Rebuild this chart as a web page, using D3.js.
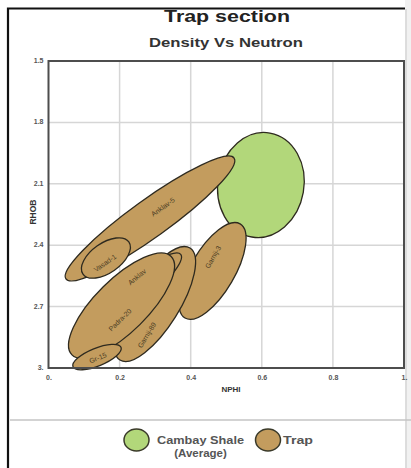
<!DOCTYPE html>
<html>
<head>
<meta charset="utf-8">
<script src="https://cdn.jsdelivr.net/npm/d3@7"></script>
<style>
	body { margin: 0; background: #fff; }
	svg { display: block; font-family: "Liberation Sans", Arial, sans-serif; }
</style>
</head>
<body>
<svg id="chart" width="411" height="468"></svg>
<script>
// zones: major axis from (nphiA, rhobA) to (nphiB, rhobB), half width in NPHI units
// listed in drawing order (later ones sit on top)
const zoneNames = ['Cambay Shale (Average)', 'Anklav-5', 'Vasad-1', 'Garnij-3', 'Garnij-89', 'Anklav', 'Padra-20', 'Gr-15']
const zoneGroup = ['shale', 'trap', 'trap', 'trap', 'trap', 'trap', 'trap', 'trap']
const nphiA = [0.623, 0.049, 0.097, 0.384, 0.201, 0.075, 0.066, 0.069]
const rhobA = [1.852, 2.565, 2.541, 2.756, 2.961, 2.870, 2.936, 2.994]
const nphiB = [0.572, 0.522, 0.226, 0.539, 0.398, 0.372, 0.345, 0.204]
const rhobB = [2.360, 1.974, 2.384, 2.296, 2.414, 2.445, 2.455, 2.899]
const halfWidth = [0.121, 0.053, 0.042, 0.062, 0.068, 0.040, 0.074, 0.025]
const labelNphi = [null, 0.322, 0.159, 0.463, 0.277, 0.249, 0.201, 0.139]
const labelRhob = [null, 2.213, 2.487, 2.458, 2.839, 2.555, 2.765, 2.951]

const xTicks = [0, 0.2, 0.4, 0.6, 0.8, 1]
const xTickLabels = ['0.', '0.2', '0.4', '0.6', '0.8', '1.']
const yTicks = [1.5, 1.8, 2.1, 2.4, 2.7, 3]
const yTickLabels = ['1.5', '1.8', '2.1', '2.4', '2.7', '3.']

const legendGroups = ['shale', 'trap']
const legendLabels = [['Cambay Shale', '(Average)'], ['Trap']]

const colors = { shale: '#b2d77a', trap: '#c39c5e' }

const svg = d3.select('#chart')
const W = 411, H = 468

// page frame
svg.append('rect').attr('x', 405).attr('y', 0).attr('width', 6).attr('height', H).attr('fill', '#f1f1f1')
svg.append('line').attr('x1', 406).attr('x2', 406).attr('y1', 9).attr('y2', H).attr('stroke', '#c8c8c8').attr('stroke-width', 1)
svg.append('path')
	.attr('d', `M8,${H} V8.5 H405`)
	.attr('fill', 'none').attr('stroke', '#111').attr('stroke-width', 2.2)
svg.append('line').attr('x1', 10).attr('x2', W).attr('y1', 420).attr('y2', 420)
	.attr('stroke', '#c4c4c4').attr('stroke-width', 1.5)

const x = d3.scaleLinear().domain([0, 1]).range([48.5, 404])
const y = d3.scaleLinear().domain([1.5, 3]).range([61, 368])

// titles
svg.append('text').attr('x', 227).attr('y', 22).attr('text-anchor', 'middle')
	.attr('font-size', 17).attr('font-weight', 'bold').attr('fill', '#222')
	.attr('textLength', 126).attr('lengthAdjust', 'spacingAndGlyphs')
	.text('Trap section')
svg.append('text').attr('x', 226).attr('y', 47).attr('text-anchor', 'middle')
	.attr('font-size', 13.5).attr('font-weight', 'bold').attr('fill', '#333')
	.attr('textLength', 154).attr('lengthAdjust', 'spacingAndGlyphs')
	.text('Density Vs Neutron')

// grid
const grid = svg.append('g')
grid.selectAll('.vg').data(xTicks.slice(1, -1)).join('line')
	.attr('x1', d => x(d)).attr('x2', d => x(d)).attr('y1', y(1.5)).attr('y2', y(3))
	.attr('stroke', '#d6d6d6').attr('stroke-width', 1.5)
grid.selectAll('.hg').data(yTicks.slice(1, -1)).join('line')
	.attr('x1', x(0)).attr('x2', x(1)).attr('y1', d => y(d)).attr('y2', d => y(d))
	.attr('stroke', '#d6d6d6').attr('stroke-width', 1.5)

// zones
const zones = zoneNames.map((name, i) => {
	const x1 = x(nphiA[i]), y1 = y(rhobA[i]), x2 = x(nphiB[i]), y2 = y(rhobB[i])
	return {
		name, group: zoneGroup[i],
		cx: (x1 + x2) / 2, cy: (y1 + y2) / 2,
		rx: Math.hypot(x2 - x1, y2 - y1) / 2,
		ry: x(halfWidth[i]) - x(0),
		angle: Math.atan2(y2 - y1, x2 - x1) * 180 / Math.PI,
		lx: labelNphi[i] == null ? null : x(labelNphi[i]),
		ly: labelRhob[i] == null ? null : y(labelRhob[i])
	}
})

const plot = svg.append('g')
plot.selectAll('ellipse').data(zones).join('ellipse')
	.attr('transform', d => `translate(${d.cx},${d.cy}) rotate(${d.angle})`)
	.attr('rx', d => d.rx).attr('ry', d => d.ry)
	.attr('fill', d => colors[d.group])
	.attr('stroke', '#2e2a1f').attr('stroke-width', 1.3)

plot.selectAll('text').data(zones.filter(d => d.lx != null)).join('text')
	.attr('transform', d => `translate(${d.lx},${d.ly}) rotate(${d.angle})`)
	.attr('text-anchor', 'middle').attr('dy', '0.35em')
	.attr('font-size', 7).attr('fill', '#4b3c24')
	.text(d => d.name)

// plot frame
svg.append('rect')
	.attr('x', x(0)).attr('y', y(1.5)).attr('width', x(1) - x(0)).attr('height', y(3) - y(1.5))
	.attr('fill', 'none').attr('stroke', '#4d4d4d').attr('stroke-width', 2)

// axes
const xAxis = d3.axisBottom(x).tickValues(xTicks).tickSize(0).tickPadding(7)
	.tickFormat((d, i) => xTickLabels[i])
const yAxis = d3.axisLeft(y).tickValues(yTicks).tickSize(0).tickPadding(5)
	.tickFormat((d, i) => yTickLabels[i])

const gx = svg.append('g').attr('transform', `translate(0,${y(3)})`).call(xAxis)
const gy = svg.append('g').attr('transform', `translate(${x(0)},0)`).call(yAxis)
;[gx, gy].forEach(g => {
	g.select('.domain').remove()
	g.selectAll('text').attr('font-size', 7).attr('font-weight', 'bold').attr('fill', '#555')
		.attr('font-family', '"Liberation Sans", Arial, sans-serif')
})
gy.selectAll('text').attr('dy', '0.2em')

svg.append('text').attr('x', 231).attr('y', 392).attr('text-anchor', 'middle')
	.attr('font-size', 8).attr('font-weight', 'bold').attr('fill', '#333')
	.text('NPHI')
svg.append('text').attr('transform', 'translate(36,212) rotate(-90)').attr('text-anchor', 'middle')
	.attr('font-size', 8.5).attr('font-weight', 'bold').attr('fill', '#333')
	.text('RHOB')

// legend
const legX = [136.5, 268]
const legend = svg.append('g')
legendGroups.forEach((g, i) => {
	legend.append('ellipse').attr('cx', legX[i]).attr('cy', 440).attr('rx', 12.5).attr('ry', 11)
		.attr('fill', colors[g]).attr('stroke', '#3a3a2a').attr('stroke-width', 1.5)
	const lines = legendLabels[i]
	if (lines.length === 2) {
		legend.append('text').attr('x', 200.5).attr('y', 444).attr('text-anchor', 'middle')
			.attr('font-size', 11.5).attr('font-weight', 'bold').attr('fill', '#555')
			.attr('textLength', 87).attr('lengthAdjust', 'spacingAndGlyphs').text(lines[0])
		legend.append('text').attr('x', 200.5).attr('y', 456.5).attr('text-anchor', 'middle')
			.attr('font-size', 11.5).attr('font-weight', 'bold').attr('fill', '#555')
			.text(lines[1])
	} else {
		legend.append('text').attr('x', 283).attr('y', 444)
			.attr('font-size', 11.5).attr('font-weight', 'bold').attr('fill', '#555')
			.attr('textLength', 30).attr('lengthAdjust', 'spacingAndGlyphs').text(lines[0])
	}
})
</script>
</body>
</html>
